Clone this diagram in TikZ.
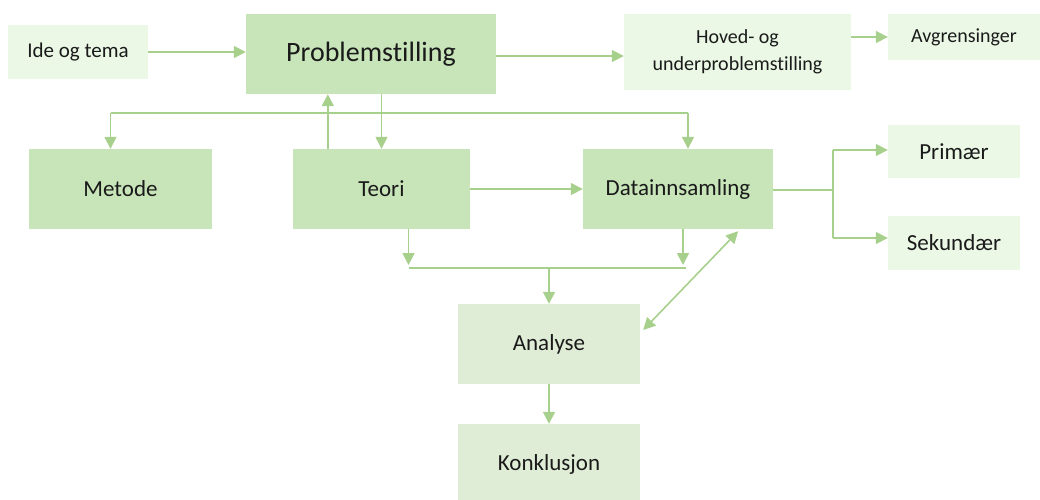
\documentclass[tikz,border=0pt]{standalone}
\usepackage{fontspec}
\setmainfont{Carlito}[Ligatures=NoCommon]
\usetikzlibrary{arrows.meta, positioning}
\definecolor{Mid}{HTML}{C8E5B9}
\definecolor{Pale}{HTML}{EAF8E5}
\definecolor{Soft}{HTML}{E0EDD6}
\definecolor{Line}{HTML}{A8D08D}
\definecolor{Ink}{HTML}{1A1A1A}
\tikzset{
    midbox/.style={rectangle, fill=Mid, text=Ink, align=center, inner sep=0pt, font=\fontsize{23}{27}\selectfont},
    palebox/.style={rectangle, fill=Pale, text=Ink, align=center, inner sep=0pt, font=\fontsize{20}{27}\selectfont},
    softbox/.style={rectangle, fill=Soft, text=Ink, align=center, inner sep=0pt, font=\fontsize{23}{27}\selectfont},
    link/.style={line width=1.6pt, color=Line},
    arrow/.style={link, -{Triangle[length=12pt, width=12pt]}},
    twoway/.style={link, {Triangle[length=12pt, width=12pt]}-{Triangle[length=12pt, width=12pt]}},
}

\begin{document}
\begin{tikzpicture}[x=1pt, y=-1pt]
    \useasboundingbox (0,0) rectangle (1040,499);

    % Boksene (oeverst)
    \node[palebox, minimum width=140, minimum height=54, font=\fontsize{21}{25}\selectfont] (ide) at (78,52) {Ide og tema};
    \node[midbox, minimum width=250, minimum height=80, font=\fontsize{28}{32}\selectfont] (prob) at (371,54) {Problemstilling};
    \node[palebox, minimum width=227, minimum height=76] (hoved) at (737.5,52) {Hoved- og\\underproblemstilling};
    \node[palebox, minimum width=152, minimum height=46] (avgr) at (964,37) {Avgrensinger};

    % Midtre rad
    \node[midbox, minimum width=183, minimum height=80] (metode) at (120.5,189) {Metode};
    \node[midbox, minimum width=177, minimum height=80] (teori) at (381.5,189) {Teori};
    \node[midbox, minimum width=190, minimum height=80] (data) at (678,189) {Datainnsamling};
    \node[palebox, minimum width=132, minimum height=53, font=\fontsize{23}{27}\selectfont] (primaer) at (954,151.5) {Primær};
    \node[palebox, minimum width=132, minimum height=54, font=\fontsize{23}{27}\selectfont] (sekundaer) at (954,243) {Sekundær};

    % Nederst
    \node[softbox, minimum width=182, minimum height=80] (analyse) at (549,344) {Analyse};
    \node[softbox, minimum width=182, minimum height=80] (konkl) at (549,464) {Konklusjon};

    % Hjelpepunkter
    \coordinate (split) at (381,113);
    \coordinate (join) at (549,268);
    \coordinate (fork) at (833,190);

    % Piler oeverst
    \draw[arrow] (ide.east) -- (ide.east -| prob.west);
    \draw[arrow] (prob.east |- 0,56) -- (hoved.west |- 0,56);
    \draw[arrow] (avgr.west -| hoved.east) -- (avgr.west);

    % Forgreining fra problemstillingen
    \draw[arrow] (prob.south -| teori) -- (teori.north);
    \draw[arrow] ([xshift=-10]metode.north |- split) -- ([xshift=-10]metode.north);
    \draw[link] ([xshift=-10]metode.north |- split) -- ([xshift=10]data.north |- split);
    \draw[arrow] ([xshift=10]data.north |- split) -- ([xshift=10]data.north);
    \draw[arrow] ([xshift=35]teori.north west) -- ([xshift=35]teori.north west |- prob.south);
    \draw[arrow] (teori) -- (data);

    % Samling mot analysen
    \draw[arrow] ([xshift=27]teori.south) -- ([xshift=27,yshift=3]teori.south |- join);
    \draw[arrow] ([xshift=5]data.south) -- ([xshift=5,yshift=3]data.south |- join);
    \draw[link] ([xshift=27]teori.south |- join) -- ([xshift=8]data.south |- join);
    \draw[arrow] (join) -- (analyse.north -| join);
    \draw[twoway] ([xshift=-35,yshift=-2]data.south east) -- ([xshift=3,yshift=14]analyse.east);
    \draw[arrow] (analyse) -- (konkl);

    % Primaer og sekundaer
    \draw[link] (data.east |- fork) -- (fork);
    \draw[arrow] (fork |- 0,150) -- (primaer.west |- 0,150);
    \draw[link] (fork |- 0,150) -- (fork |- 0,238);
    \draw[arrow] (fork |- 0,238) -- (sekundaer.west |- 0,238);
\end{tikzpicture}
\end{document}
